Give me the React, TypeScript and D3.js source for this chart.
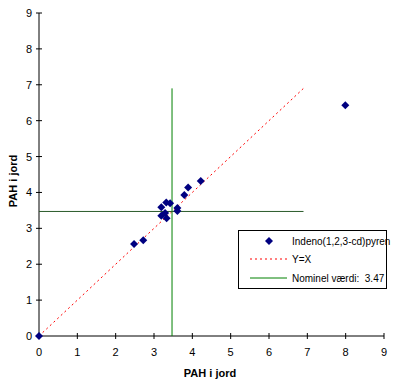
import React from "react";
import * as d3 from "d3";

const pahX = [0, 2.48, 2.72, 3.19, 3.19, 3.29, 3.33, 3.32, 3.42, 3.61, 3.61, 3.79, 3.89, 4.22, 7.99];
const pahY = [0, 2.56, 2.67, 3.59, 3.35, 3.43, 3.28, 3.72, 3.70, 3.57, 3.48, 3.93, 4.14, 4.32, 6.43];
const ticks = [0, 1, 2, 3, 4, 5, 6, 7, 8, 9];
const nominal = 3.47;
const lineEnd = 6.9;
const legendLabels = ["Indeno(1,2,3-cd)pyren", "Y=X", "Nominel værdi:  3.47"];

export default function App() {
  const x = d3.scaleLinear().domain([0, 9]).range([39, 384]);
  const y = d3.scaleLinear().domain([0, 9]).range([336, 13]);
  const font = "Liberation Sans, Arial, sans-serif";
  const diamond = "M0,-4L4,0L0,4L-4,0Z";
  const line = d3.line<number>().x((d) => x(d)).y((d) => y(d));
  return (
    <svg width={411} height={387} style={{ position: "absolute", left: 0, top: 0, background: "#fff" }} fontFamily={font}>
      {/* axes */}
      <line x1={x(0)} x2={x(9)} y1={y(0)} y2={y(0)} stroke="#000" />
      <line x1={x(0)} x2={x(0)} y1={y(0)} y2={y(9)} stroke="#000" />
      {ticks.map((t) => (
        <g key={"x" + t}>
          <line x1={x(t)} x2={x(t)} y1={y(0) - 3} y2={y(0) + 3} stroke="#000" />
          <text x={x(t)} y={y(0) + 20} fontSize={11} textAnchor="middle">{t}</text>
        </g>
      ))}
      {ticks.map((t) => (
        <g key={"y" + t}>
          <line x1={x(0) - 3} x2={x(0) + 3} y1={y(t)} y2={y(t)} stroke="#000" />
          <text x={x(0) - 7} y={y(t) + 4} fontSize={11} textAnchor="end">{t}</text>
        </g>
      ))}
      <text x={210} y={377} fontSize={11} fontWeight="bold" textAnchor="middle">PAH i jord</text>
      <text transform="translate(17,181) rotate(-90)" fontSize={11} fontWeight="bold" textAnchor="middle">PAH i jord</text>
      {/* Y=X */}
      <path d={line([0, lineEnd]) as string} stroke="#ff0000" strokeDasharray="2,3" fill="none" />
      {/* nominal lines */}
      <line x1={x(nominal)} x2={x(nominal)} y1={y(0)} y2={y(lineEnd)} stroke="#008000" />
      <line x1={x(0)} x2={x(lineEnd)} y1={y(nominal)} y2={y(nominal)} stroke="#2a5a2a" />
      {/* points */}
      {pahX.map((v, i) => (
        <path key={i} d={diamond} transform={`translate(${x(v)},${y(pahY[i])})`} fill="#000080" />
      ))}
      {/* legend */}
      <rect x={238.5} y={230.5} width={148} height={58} fill="#fff" stroke="#000" />
      <path d={diamond} transform="translate(269,241)" fill="#000080" />
      <line x1={250} x2={287} y1={259} y2={259} stroke="#ff0000" strokeDasharray="2,3" />
      <line x1={250} x2={287} y1={278} y2={278} stroke="#008000" />
      {legendLabels.map((l, i) => (
        <text key={l} x={292} y={[245, 263, 282][i]} fontSize={10} style={{ whiteSpace: "pre" }}>{l}</text>
      ))}
    </svg>
  );
}
